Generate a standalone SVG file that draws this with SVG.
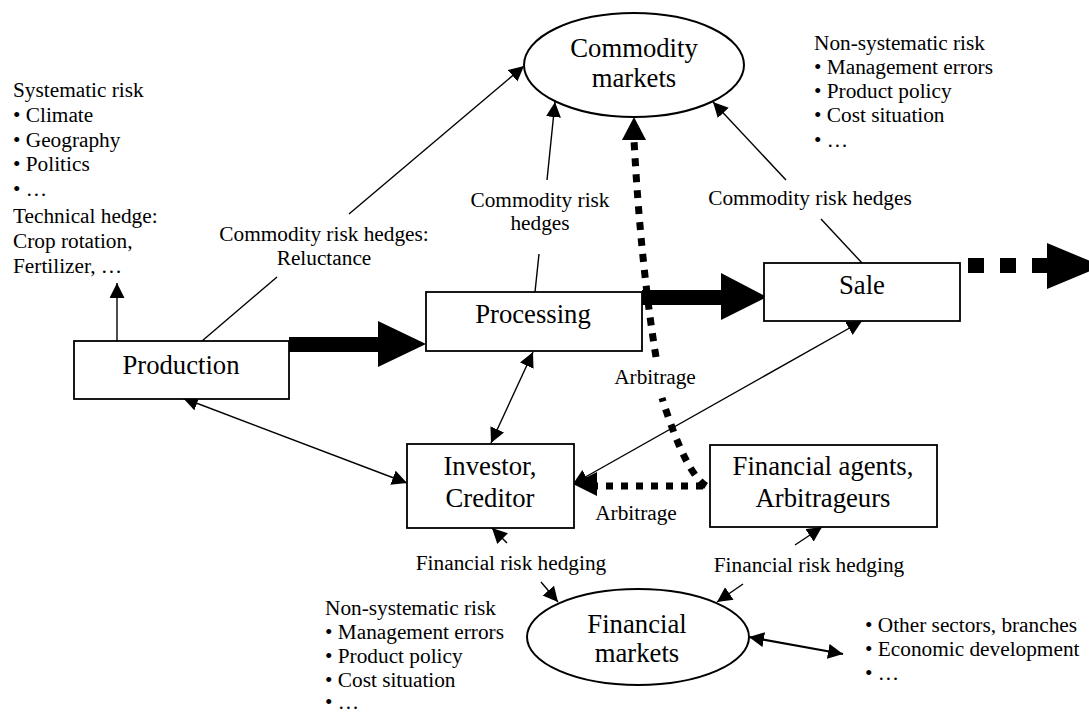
<svg xmlns="http://www.w3.org/2000/svg" width="1089" height="714" viewBox="0 0 1089 714" font-family="'Liberation Serif', 'Times New Roman', 'DejaVu Serif', serif">
<style>
text{font-family:'Liberation Serif','Times New Roman','DejaVu Serif',serif;fill:#000}
.lbl{font-size:21.3px}
.nd{font-size:26.7px;text-anchor:middle}
.c{text-anchor:middle}
.box{fill:#fff;stroke:#000;stroke-width:1.8}
.ell{fill:#fff;stroke:#000;stroke-width:2}
.ln{fill:none;stroke:#000;stroke-width:1.4}
.ar{fill:none;stroke:#000;stroke-width:1.4;marker-end:url(#ah)}
.dar{fill:none;stroke:#000;stroke-width:1.4;marker-start:url(#ah);marker-end:url(#ah)}
.dot{fill:none;stroke:#000;stroke-width:7;stroke-dasharray:8 8}
.thick{fill:#000}
</style>
<defs>
<marker id="ah" markerUnits="userSpaceOnUse" markerWidth="16" markerHeight="16" viewBox="0 0 16 16" refX="15" refY="7.5" orient="auto-start-reverse">
<path d="M0,0 L15,7.5 L0,15 z" fill="#000"/>
</marker>
</defs>

<g id="connectors">
<line class="ln" x1="202" y1="341" x2="277" y2="277"/>
<line class="ar" x1="349" y1="214" x2="524" y2="66"/>
<line class="ln" x1="535" y1="292" x2="539" y2="254"/>
<line class="ar" x1="547" y1="180" x2="555" y2="102"/>
<line class="ln" x1="862" y1="263" x2="821" y2="219"/>
<line class="ar" x1="786" y1="180" x2="713" y2="102"/>
<line class="ar" x1="117" y1="341" x2="117" y2="283"/>
<polygon class="thick" points="289,337 378,337 378,321 426,344 378,367 378,352 289,352"/>
<polygon class="thick" points="642,290 721,290 721,273 767,297 721,320 721,305 642,305"/>
<rect class="thick" x="968" y="258" width="16" height="15"/>
<rect class="thick" x="1000" y="258" width="16" height="15"/>
<polygon class="thick" points="1032,258 1047,258 1047,243 1102,266 1047,289 1047,273 1032,273"/>
<line class="dar" x1="183" y1="398" x2="407" y2="483"/>
<line class="dar" x1="533" y1="352" x2="491" y2="443"/>
<line class="dar" x1="573" y1="484" x2="862" y2="321"/>
<line class="dar" x1="749" y1="637" x2="843" y2="654" style="stroke-width:2.2"/>
<line class="ar" x1="507" y1="543" x2="492" y2="528"/>
<line class="ar" x1="541" y1="582" x2="558" y2="602"/>
<line class="ar" x1="795" y1="545" x2="822" y2="527"/>
<line class="ar" x1="743" y1="584" x2="717" y2="602"/>
<path class="dot" d="M706,486 C694,478 680,455 662,398"/>
<path class="dot" d="M656,357 C650,320 640,250 634,140"/>
<polygon class="thick" points="634,117 646,140 622,140"/>
<line class="dot" x1="703" y1="486" x2="597" y2="486" style="stroke-dasharray:7 8"/>
<polygon class="thick" points="573,484 597,472 597,496"/>
</g>

<g id="commodity-markets">
<ellipse class="ell" cx="634" cy="65" rx="110" ry="52"/>
<text class="nd" x="634" y="57">Commodity</text>
<text class="nd" x="634" y="87">markets</text>
</g>

<g id="production">
<rect class="box" x="74" y="341" width="215" height="58"/>
<text class="nd" x="181" y="374">Production</text>
</g>

<g id="processing">
<rect class="box" x="426" y="292" width="216" height="59"/>
<text class="nd" x="533" y="323">Processing</text>
</g>

<g id="sale">
<rect class="box" x="764" y="263" width="196" height="58"/>
<text class="nd" x="862" y="294">Sale</text>
</g>

<g id="investor">
<rect class="box" x="407" y="444" width="167" height="84"/>
<text class="nd" x="490" y="475">Investor,</text>
<text class="nd" x="490" y="507">Creditor</text>
</g>

<g id="financial-agents">
<rect class="box" x="710" y="445" width="227" height="82"/>
<text class="nd" x="823" y="475">Financial agents,</text>
<text class="nd" x="823" y="507">Arbitrageurs</text>
</g>

<g id="financial-markets">
<ellipse class="ell" cx="638" cy="637" rx="111" ry="48"/>
<text class="nd" x="637" y="633">Financial</text>
<text class="nd" x="637" y="662">markets</text>
</g>

<g id="labels">
<text class="lbl c" x="324" y="241">Commodity risk hedges:</text>
<text class="lbl c" x="324" y="265">Reluctance</text>
<text class="lbl c" x="540" y="207">Commodity risk</text>
<text class="lbl c" x="540" y="230">hedges</text>
<text class="lbl c" x="810" y="205">Commodity risk hedges</text>
<text class="lbl c" x="655" y="384">Arbitrage</text>
<text class="lbl c" x="636" y="520">Arbitrage</text>
<text class="lbl c" x="511" y="570">Financial risk hedging</text>
<text class="lbl c" x="809" y="572">Financial risk hedging</text>
</g>

<g id="systematic-risk">
<text class="lbl" x="13" y="97">Systematic risk</text>
<text class="lbl" x="13" y="122">• Climate</text>
<text class="lbl" x="13" y="147">• Geography</text>
<text class="lbl" x="13" y="171">• Politics</text>
<text class="lbl" x="13" y="196">• …</text>
<text class="lbl" x="13" y="223">Technical hedge:</text>
<text class="lbl" x="13" y="248">Crop rotation,</text>
<text class="lbl" x="13" y="273">Fertilizer, …</text>
</g>

<g id="nonsystematic-risk-top">
<text class="lbl" x="814" y="50">Non-systematic risk</text>
<text class="lbl" x="814" y="74">• Management errors</text>
<text class="lbl" x="814" y="98">• Product policy</text>
<text class="lbl" x="814" y="122">• Cost situation</text>
<text class="lbl" x="814" y="147">• …</text>
</g>

<g id="nonsystematic-risk-bottom">
<text class="lbl" x="325" y="615">Non-systematic risk</text>
<text class="lbl" x="325" y="639">• Management errors</text>
<text class="lbl" x="325" y="663">• Product policy</text>
<text class="lbl" x="325" y="687">• Cost situation</text>
<text class="lbl" x="325" y="709">• …</text>
</g>

<g id="other-factors">
<text class="lbl" x="865" y="632">• Other sectors, branches</text>
<text class="lbl" x="865" y="656">• Economic development</text>
<text class="lbl" x="865" y="680">• …</text>
</g>
</svg>
